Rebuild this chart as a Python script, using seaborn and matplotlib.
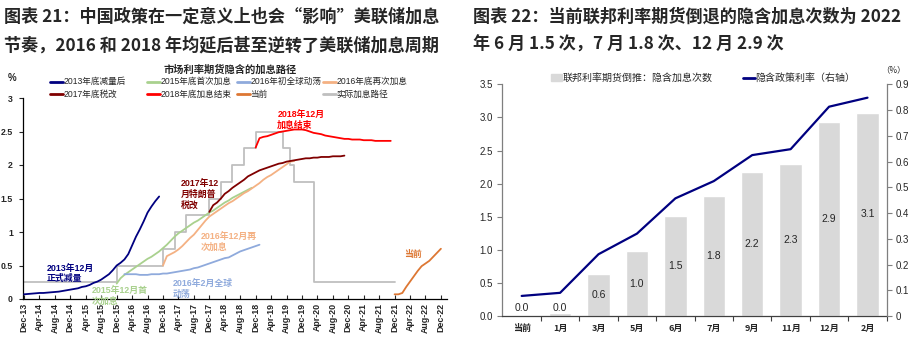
import numpy as np
import pandas as pd
import matplotlib
matplotlib.use("Agg")
import matplotlib.pyplot as plt
from matplotlib.lines import Line2D
from matplotlib.patches import Rectangle
import seaborn as sns

# ---------------- Left chart data (months counted from Dec-13) ----------------
x_tick_labels = ['Dec-13', 'Apr-14', 'Aug-14', 'Dec-14', 'Apr-15', 'Aug-15', 'Dec-15',
                 'Apr-16', 'Aug-16', 'Dec-16', 'Apr-17', 'Aug-17', 'Dec-17', 'Apr-18',
                 'Aug-18', 'Dec-18', 'Apr-19', 'Aug-19', 'Dec-19', 'Apr-20', 'Aug-20',
                 'Dec-20', 'Apr-21', 'Aug-21', 'Dec-21', 'Apr-22', 'Aug-22', 'Dec-22']

s2013_start = 0
s2013 = [0.07, 0.075, 0.08, 0.085, 0.09, 0.09, 0.095, 0.10, 0.105, 0.11, 0.12, 0.13,
         0.14, 0.15, 0.16, 0.18, 0.19, 0.21, 0.24, 0.26, 0.29, 0.33, 0.37, 0.43,
         0.50, 0.54, 0.59, 0.67, 0.80, 0.93, 1.04, 1.16, 1.29, 1.38, 1.46, 1.53]
s2015_start = 24
s2015 = [0.23, 0.31, 0.36, 0.40, 0.44, 0.48, 0.52, 0.56, 0.60, 0.63, 0.67, 0.71,
         0.76, 0.81, 0.87, 0.93, 0.98, 1.02, 1.06, 1.10, 1.14, 1.17, 1.21, 1.25,
         1.29, 1.32, 1.36, 1.40, 1.44, 1.47, 1.51, 1.54, 1.57, 1.60, 1.63, 1.66]
s2016a_start = 26
s2016a = [0.37, 0.37, 0.37, 0.37, 0.36, 0.36, 0.36, 0.37, 0.37, 0.37, 0.38, 0.38,
          0.39, 0.40, 0.41, 0.42, 0.43, 0.44, 0.46, 0.47, 0.49, 0.51, 0.53, 0.55,
          0.57, 0.59, 0.61, 0.62, 0.65, 0.68, 0.71, 0.73, 0.75, 0.77, 0.79, 0.81]
s2016b_start = 36
s2016b = [0.50, 0.64, 0.67, 0.70, 0.74, 0.79, 0.85, 0.91, 0.96, 1.03, 1.10, 1.17,
          1.23, 1.27, 1.31, 1.35, 1.39, 1.43, 1.46, 1.50, 1.54, 1.58, 1.61, 1.65,
          1.69, 1.73, 1.78, 1.82, 1.85, 1.89, 1.93, 1.97, 2.01, 2.05, 2.06]
s2017_start = 48
s2017 = [1.30, 1.40, 1.44, 1.50, 1.57, 1.61, 1.66, 1.70, 1.74, 1.78, 1.83, 1.86,
         1.89, 1.92, 1.94, 1.96, 1.98, 2.00, 2.02, 2.03, 2.05, 2.06, 2.07, 2.08,
         2.09, 2.10, 2.10, 2.11, 2.11, 2.12, 2.12, 2.12, 2.13, 2.13, 2.13, 2.14]
s2018_start = 60
s2018 = [2.26, 2.40, 2.42, 2.43, 2.45, 2.47, 2.49, 2.50, 2.51, 2.52, 2.53, 2.53,
         2.53, 2.52, 2.50, 2.48, 2.47, 2.46, 2.44, 2.43, 2.42, 2.41, 2.40, 2.39,
         2.39, 2.38, 2.38, 2.38, 2.37, 2.37, 2.37, 2.36, 2.36, 2.36, 2.36, 2.36]
snow_start = 96
snow = [0.07, 0.07, 0.09, 0.18, 0.26, 0.34, 0.42, 0.49, 0.53, 0.57, 0.63, 0.69, 0.75]

actual_months = [0, 24, 36, 39, 42, 48, 51, 54, 57, 60, 67, 69, 70, 75, 96]
actual_rates = [0.25, 0.50, 0.75, 1.00, 1.25, 1.50, 1.75, 2.00, 2.25, 2.50, 2.25, 2.00, 1.75, 0.25, 0.25]

series_names = ['2013年底减量后', '2015年底首次加息', '2016年初全球动荡', '2016年底再次加息',
                '2017年底税改', '2018年底加息结束', '当前', '实际加息路径']

# ---------------- Right chart data ----------------
cats = ['当前', '1月', '3月', '5月', '6月', '7月', '9月', '11月', '12月', '2月']
hikes = [0.0, 0.04, 0.64, 0.98, 1.51, 1.81, 2.17, 2.29, 2.93, 3.07]
hike_labels = ['0.0', '0.0', '0.6', '1.0', '1.5', '1.8', '2.2', '2.3', '2.9', '3.1']
rate = [0.078, 0.090, 0.240, 0.320, 0.457, 0.524, 0.625, 0.648, 0.813, 0.848]

# ---------------- Style ----------------
sns.set_style("ticks")
plt.rcParams['font.family'] = ['Liberation Sans', 'Noto Sans CJK SC']
CJK = ['Noto Sans CJK SC', 'Liberation Sans']

W, H = 917, 340
fig = plt.figure(figsize=(W / 100, H / 100), dpi=100)


def fx(px):
    return px / W


def fy(py):
    return 1 - py / H


colors = ['#000080', '#A9D18E', '#8FAADC', '#F4B183', '#800000', '#FF0000', '#DD7733', '#BFBFBF']

# ---------------- Left chart ----------------
ax1 = fig.add_axes([fx(22.7), fy(299), fx(446.7 - 22.7), (299 - 98) / H])
sns.lineplot(x=actual_months, y=actual_rates, ax=ax1, color=colors[7], lw=1.3,
             drawstyle='steps-post', zorder=1)
left_series = [(s2013_start, s2013), (s2015_start, s2015), (s2016a_start, s2016a),
               (s2016b_start, s2016b), (s2017_start, s2017), (s2018_start, s2018),
               (snow_start, snow)]
for (start, vals), c in zip(left_series, colors[:7]):
    m = np.arange(start, start + len(vals))
    sns.lineplot(x=m, y=vals, ax=ax1, color=c, lw=1.3, zorder=3)

ax1.set_xlim(-0.35, 109.5)
ax1.set_ylim(0, 3)
ax1.set_xlabel('')
ax1.set_ylabel('')
ax1.set_xticks(np.arange(0, 109, 4))
ax1.set_xticklabels(x_tick_labels, rotation=90, fontsize=6.4, fontweight='bold')
ax1.set_yticks([0, 0.5, 1, 1.5, 2, 2.5, 3])
ax1.set_yticklabels(['0', '0.5', '1', '1.5', '2', '2.5', '3'], fontsize=6.3, fontweight='bold')
ax1.tick_params(axis='x', direction='in', length=3, width=0.8, pad=3)
ax1.tick_params(axis='y', direction='out', length=3, width=0.8, pad=4)
for sp in ['top', 'right']:
    ax1.spines[sp].set_visible(False)
for sp in ['left', 'bottom']:
    ax1.spines[sp].set_linewidth(0.9)
    ax1.spines[sp].set_color('black')

# annotations (data coords)
notes = [
    (5.9, 0.53, '2013年12月\n正式减量', colors[0]),
    (17.5, 0.19, '2015年12月首\n次加息', colors[1]),
    (38.5, 0.30, '2016年2月全球\n动荡', colors[2]),
    (45.9, 1.00, '2016年12月再\n次加息', colors[3]),
    (40.7, 1.79, '2017年12\n月特朗普\n税改', colors[4]),
    (65.6, 2.82, '2018年12月\n加息结束', colors[5]),
    (98.5, 0.73, '当前', colors[6]),
]
for x, y, t, c in notes:
    ax1.text(x, y, t, color=c, fontsize=6.4, fontweight='bold', ha='left', va='top',
             linespacing=1.25, clip_on=False, zorder=5)

fig.text(fx(12.3), fy(78), '%', fontsize=7, fontweight='bold', ha='center', va='center')
fig.text(fx(229.7), fy(70), '市场利率期货隐含的加息路径', fontsize=7.4, fontweight='bold',
         ha='center', va='center', family=CJK)

# manual legend
leg_x = [50, 147, 237, 323]
leg_y = [81.7, 94.0]
for k in range(len(series_names)):
    r, col = divmod(k, 4)
    x0 = leg_x[col]
    y0 = leg_y[r]
    fig.add_artist(Line2D([fx(x0), fx(x0 + 13.3)], [fy(y0), fy(y0)], color=colors[k],
                          lw=2, transform=fig.transFigure))
    fig.text(fx(x0 + 13.5), fy(y0), series_names[k], fontsize=6.2, ha='left', va='center')

# ---------------- Right chart ----------------
ax2 = fig.add_axes([fx(501.7), fy(316), fx(886.7 - 501.7), (316 - 84.3) / H])
df_bar = pd.DataFrame({'月份': cats, '加息次数': hikes})
sns.barplot(data=df_bar, x='月份', y='加息次数', color='#D9D9D9', saturation=1,
            width=0.58, ax=ax2, zorder=1)
ax2.set_ylim(0, 3.5)
ax2.set_xlabel('')
ax2.set_ylabel('')
for i, (v, lab) in enumerate(zip(hikes, hike_labels)):
    ax2.text(i, max(v / 2, 0.12), lab, ha='center', va='center', fontsize=7.5, zorder=4)

ax2r = ax2.twinx()
sns.lineplot(x=np.arange(len(cats)), y=rate, ax=ax2r, color='#000080', lw=1.6, zorder=3)
ax2r.set_ylim(0, 0.9)
ax2r.set_xlabel('')
ax2r.set_ylabel('')
ax2.set_xlim(-0.52, 9.5)

ax2.set_xticks(np.arange(len(cats)))
ax2.set_xticklabels(cats, fontsize=6.5, fontweight='bold', family=CJK)
ax2.set_xticks(np.arange(len(cats)) + 0.5, minor=True)
ax2.tick_params(axis='x', which='major', length=0, pad=6)
ax2.tick_params(axis='x', which='minor', direction='out', length=3.5, width=0.8, color='#404040')
ax2.set_yticks(np.arange(0, 3.51, 0.5))
ax2.set_yticklabels(['0.0', '0.5', '1.0', '1.5', '2.0', '2.5', '3.0', '3.5'], fontsize=7)
ax2.tick_params(axis='y', direction='out', length=3.5, width=0.8, color='#7F7F7F', pad=3)
ax2r.set_yticks(np.arange(0, 0.91, 0.1))
ax2r.set_yticklabels(['0', '0.1', '0.2', '0.3', '0.4', '0.5', '0.6', '0.7', '0.8', '0.9'], fontsize=7)
ax2r.tick_params(axis='y', direction='out', length=3.5, width=0.8, color='#7F7F7F', pad=3)

for sp in ['top', 'right']:
    ax2.spines[sp].set_visible(False)
for sp in ['top', 'left', 'bottom']:
    ax2r.spines[sp].set_visible(False)
ax2.spines['left'].set_color('#7F7F7F')
ax2.spines['bottom'].set_color('#404040')
ax2r.spines['right'].set_color('#7F7F7F')
for a in (ax2, ax2r):
    for sp in a.spines.values():
        sp.set_linewidth(0.9)

fig.text(fx(893), fy(70), '（%）', fontsize=6, ha='center', va='center', family=CJK)

# right legend
fig.add_artist(Rectangle((fx(550.7), fy(81.2)), fx(11), 6.8 / H, color='#D9D9D9',
                         transform=fig.transFigure))
fig.text(fx(562.5), fy(77.7), '联邦利率期货倒推：隐含加息次数', fontsize=7.2, ha='left',
         va='center', family=CJK)
fig.add_artist(Line2D([fx(742.7), fx(755)], [fy(77.7), fy(77.7)], color='#000080', lw=2,
                      transform=fig.transFigure))
fig.text(fx(755.5), fy(77.7), '隐含政策利率（右轴）', fontsize=7.2, ha='left', va='center',
         family=CJK)

# ---------------- Titles ----------------
fig.text(fx(4), fy(17), '图表 21：中国政策在一定意义上也会“影响”美联储加息', fontsize=12.3,
         fontweight='bold', ha='left', va='center', family=CJK)
fig.text(fx(4), fy(45), '节奏，2016 和 2018 年均延后甚至逆转了美联储加息周期', fontsize=12.3,
         fontweight='bold', ha='left', va='center', family=CJK)
fig.text(fx(473), fy(17), '图表 22：当前联邦利率期货倒退的隐含加息次数为 2022', fontsize=12.3,
         fontweight='bold', ha='left', va='center', family=CJK)
fig.text(fx(473), fy(45), '年 6 月 1.5 次，7 月 1.8 次、12 月 2.9 次', fontsize=12.3,
         fontweight='bold', ha='left', va='center', family=CJK)

fig.savefig('out.png', dpi=100)
